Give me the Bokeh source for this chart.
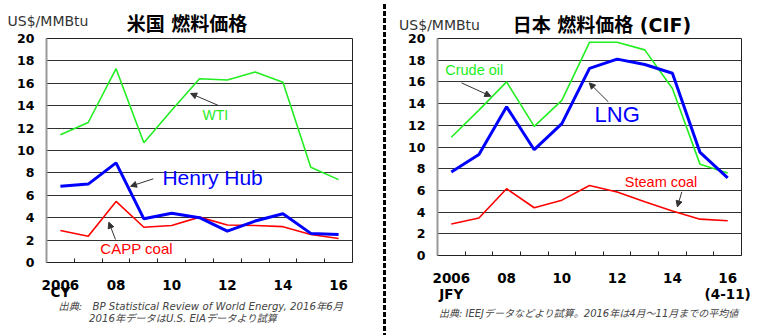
from bokeh.plotting import figure
from bokeh.layouts import row
from bokeh.models import FixedTicker, Label, Arrow, NormalHead, Div, LinearAxis
from bokeh.embed import file_html
from bokeh.resources import INLINE

years = [2006, 2007, 2008, 2009, 2010, 2011, 2012, 2013, 2014, 2015, 2016]
tick_labels = {2006: "2006", 2008: "08", 2010: "10", 2012: "12", 2014: "14", 2016: "16"}
sub_labels_us = {2006: "CY"}
sub_labels_jp = {2006: "JFY", 2016: "(4-11)"}
y_ticks = [0, 2, 4, 6, 8, 10, 12, 14, 16, 18, 20]

# US (left)
us_wti = [11.4, 12.5, 17.3, 10.7, 13.6, 16.4, 16.3, 17.0, 16.1, 8.5, 7.4]
us_henry_hub = [6.8, 7.0, 8.9, 3.9, 4.4, 4.0, 2.8, 3.7, 4.35, 2.6, 2.5]
us_capp_coal = [2.85, 2.35, 5.45, 3.15, 3.3, 4.05, 3.35, 3.3, 3.2, 2.5, 2.15]

# Japan (right)
jp_crude_oil = [10.9, 13.4, 16.0, 11.9, 14.3, 19.65, 19.65, 18.95, 15.4, 8.4, 7.6]
jp_lng = [7.7, 9.3, 13.7, 9.75, 12.15, 17.25, 18.1, 17.6, 16.8, 9.5, 7.15]
jp_steam_coal = [2.9, 3.45, 6.15, 4.4, 5.1, 6.45, 5.85, 4.95, 4.1, 3.35, 3.2]

GREEN = "#22ee22"
BLUE = "#0000ff"
RED = "#ff0000"
TICK_FONT = "DejaVu Sans"
LAT_FONT = "Liberation Sans"
TITLE_FONT = "DejaVu Sans, Noto Sans CJK JP"
NOTE_FONT = "DejaVu Sans, Noto Sans CJK JP"


def base_fig(width, height, left, right):
    p = figure(width=width, height=height, output_backend="svg", toolbar_location=None,
               x_range=(2005.5, 2016.5), y_range=(0, 20),
               min_border_left=left, min_border_right=right,
               min_border_top=38, min_border_bottom=73)
    p.background_fill_color = "white"
    p.border_fill_color = "white"
    p.outline_line_color = "#222222"
    p.outline_line_width = 1
    p.xgrid.grid_line_color = None
    p.ygrid.ticker = FixedTicker(ticks=y_ticks)
    p.ygrid.grid_line_color = "#333333"
    p.ygrid.grid_line_width = 1
    p.xaxis.ticker = FixedTicker(ticks=sorted(tick_labels.keys()),
                                 minor_ticks=[y + 0.5 for y in years[:-1]])
    p.xaxis.major_label_overrides = tick_labels
    p.xaxis.major_tick_line_color = None
    p.xaxis.major_tick_in = 0
    p.xaxis.major_tick_out = 0
    p.xaxis.minor_tick_in = 4
    p.xaxis.minor_tick_out = 0
    p.xaxis.minor_tick_line_color = "#222222"
    p.xaxis.axis_line_color = "#222222"
    p.xaxis.major_label_text_font = TICK_FONT
    p.xaxis.major_label_text_font_style = "bold"
    p.xaxis.major_label_text_font_size = "13.5px"
    p.xaxis.major_label_text_color = "black"
    p.yaxis.ticker = FixedTicker(ticks=y_ticks)
    p.yaxis.major_tick_line_color = None
    p.yaxis.minor_tick_line_color = None
    p.yaxis.major_tick_in = 0
    p.yaxis.major_tick_out = 0
    p.yaxis.axis_line_color = "#999999"
    p.yaxis.axis_line_width = 2
    p.yaxis.major_label_text_font = TICK_FONT
    p.yaxis.major_label_text_font_style = "bold"
    p.yaxis.major_label_text_font_size = "12.5px"
    p.yaxis.major_label_text_color = "black"
    p.yaxis.major_label_standoff = 12
    return p


def sub_axis(p, labels, standoff):
    ax = LinearAxis(ticker=FixedTicker(ticks=sorted(labels.keys())),
                    major_label_overrides=labels,
                    axis_line_color=None, major_tick_line_color=None,
                    minor_tick_line_color=None, major_tick_in=0, major_tick_out=0,
                    major_label_standoff=standoff,
                    major_label_text_font=TICK_FONT, major_label_text_font_style="bold",
                    major_label_text_font_size="13.5px", major_label_text_color="black")
    p.add_layout(ax, "below")


def label(p, x, y, text, color, size, font, style="normal", align="center",
          baseline="middle", place="center", line_height=1.2):
    lab = Label(x=x, y=y, text=text, text_color=color, text_font_size=size,
                text_font=font, text_font_style=style, text_align=align,
                text_baseline=baseline, text_line_height=line_height)
    p.add_layout(lab, place)


def arrow(p, x0, y0, x1, y1):
    p.add_layout(Arrow(x_start=x0, y_start=y0, x_end=x1, y_end=y1, line_color="#333333",
                       line_width=1,
                       end=NormalHead(size=6, fill_color="#333333", line_color="#333333")))


# ---------------- Left: US ----------------
left = base_fig(382, 335, 46, 30)
left.xaxis.major_label_standoff = 17
sub_axis(left, sub_labels_us, -9)
left.line(years, us_wti, line_color=GREEN, line_width=1.6)
left.line(years, us_capp_coal, line_color=RED, line_width=1.6)
left.line(years, us_henry_hub, line_color=BLUE, line_width=3)

label(left, 2011.57, 13.19, "WTI", GREEN, "14px", LAT_FONT)
label(left, 2011.47, 7.56, "Henry Hub", BLUE, "21px", LAT_FONT)
label(left, 2008.74, 1.22, "CAPP coal", RED, "15px", LAT_FONT)
arrow(left, 2011.68, 14.02, 2010.68, 15.09)
arrow(left, 2009.34, 7.47, 2008.52, 6.81)
arrow(left, 2007.98, 2.05, 2007.74, 3.6)

label(left, 2004.1, 21.6, "US$/MMBtu", "#333333", "14px", TICK_FONT, align="left",
      place="above")
label(left, 2010.55, 21.3, "米国 燃料価格", "black", "19px", TITLE_FONT, "bold", place="above")
label(left, 2005.93, -4.48,
      "出典:\u3000BP Statistical Review of World Energy, 2016年6月\n"
      "\u3000\u3000\u30002016年データはU.S. EIAデータより試算",
      "#444444", "10.2px", NOTE_FONT, "italic", align="left", place="below",
      line_height=1.05)

# ---------------- Separator ----------------
sep = Div(text='<div style="width:3px;height:331px;margin-top:4px;margin-left:1px;'
               'background:repeating-linear-gradient(to bottom,#000 0px,#000 5px,'
               'transparent 5px,transparent 7px)"></div>',
          width=5, height=335, margin=0)

# ---------------- Right: Japan ----------------
right = base_fig(381, 328, 50, 27)
right.xaxis.major_label_standoff = 17
sub_axis(right, sub_labels_jp, 0)
right.line(years, jp_crude_oil, line_color=GREEN, line_width=1.6)
right.line(years, jp_steam_coal, line_color=RED, line_width=1.6)
right.line(years, jp_lng, line_color=BLUE, line_width=3)

label(right, 2006.83, 17.08, "Crude oil", GREEN, "14.5px", LAT_FONT)
label(right, 2012.0, 13.02, "LNG", BLUE, "22px", LAT_FONT)
label(right, 2013.59, 6.78, "Steam coal", RED, "14.5px", LAT_FONT)
arrow(right, 2006.37, 15.91, 2007.43, 14.68)
arrow(right, 2011.68, 14.16, 2010.99, 15.91)
arrow(right, 2014.34, 5.86, 2014.18, 4.48)

label(right, 2004.11, 21.2, "US$/MMBtu", "#333333", "14px", TICK_FONT, align="left",
      place="above")
label(right, 2011.45, 21.2, "日本 燃料価格 (CIF)", "black", "19px", TITLE_FONT, "bold",
      place="above")
label(right, 2005.55, -5.35, "出典: IEEJデータなどより試算。2016年は4月～11月までの平均値",
      "#444444", "10px", NOTE_FONT, "italic", align="left", place="below")

layout = row(left, sep, right, spacing=0)
open("out.html", "w").write(file_html(layout, INLINE))
